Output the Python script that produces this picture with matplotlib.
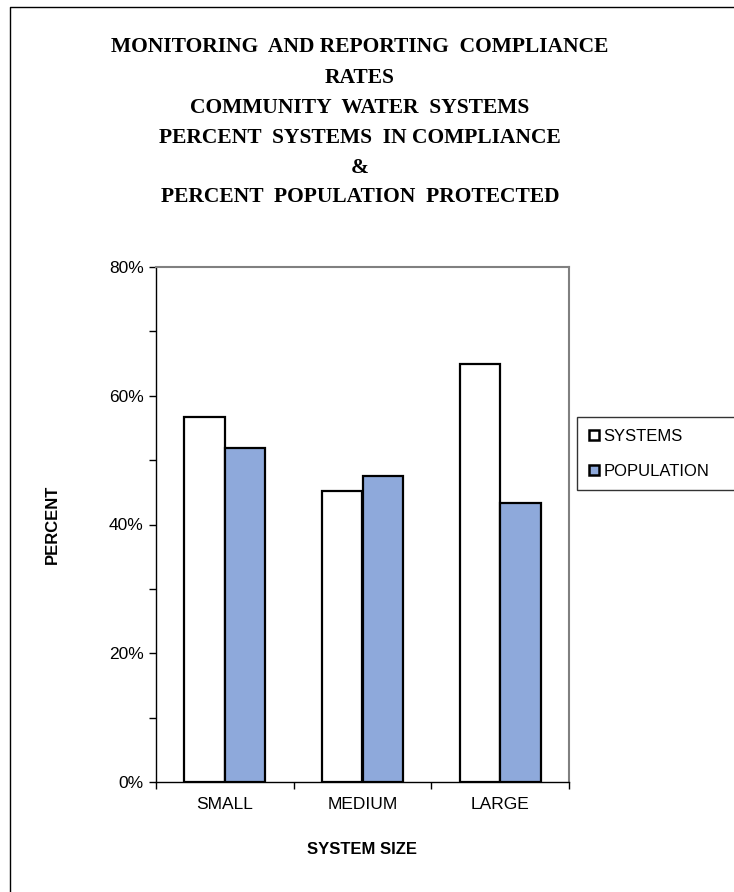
import matplotlib
matplotlib.use("Agg")
import matplotlib.pyplot as plt
from matplotlib.patches import Patch
from matplotlib.lines import Line2D
import numpy as np

categories = ["SMALL", "MEDIUM", "LARGE"]
systems = [56.7, 45.2, 64.9]
population = [51.9, 47.6, 43.4]
series_names = ["SYSTEMS", "POPULATION"]
yticks = [0, 20, 40, 60, 80]
title_lines = ["MONITORING  AND REPORTING  COMPLIANCE", "RATES",
               "COMMUNITY  WATER  SYSTEMS", "PERCENT  SYSTEMS  IN COMPLIANCE",
               "&", "PERCENT  POPULATION  PROTECTED"]

W, H = 734, 892
fig = plt.figure(figsize=(W / 100, H / 100), dpi=100)
fig.patch.set_facecolor("white")

def fx(px):
    return px / W

def fy(py):
    return 1 - py / H

ax = fig.add_axes([fx(156), fy(782), (569 - 156) / W, (782 - 267) / H])

blue = "#8EA9DB"
x = np.arange(len(categories))
w = 0.294
ax.bar(x - w / 2, systems, w, color="white", edgecolor="black", linewidth=1.6, zorder=3)
ax.bar(x + w / 2, population, w, color=blue, edgecolor="black", linewidth=1.6, zorder=3)

ax.set_xlim(-0.5, len(categories) - 0.5)
ax.set_ylim(0, 80)
ax.set_yticks(yticks)
ax.set_yticklabels([f"{v}%" for v in yticks])
ax.set_yticks(np.arange(0, 81, 10), minor=True)
ax.set_xticks(x)
ax.set_xticklabels(categories)
ax.set_xticks(np.arange(-0.5, len(categories), 1.0), minor=True)

ax.tick_params(axis="y", which="both", direction="out", length=5, width=1,
               labelsize=12.5, pad=4, colors="black")
ax.tick_params(axis="x", which="major", length=0, labelsize=12.5, pad=11)
ax.tick_params(axis="x", which="minor", direction="out", length=5, width=1)
for lab in ax.get_xticklabels() + ax.get_yticklabels():
    lab.set_fontfamily("Liberation Sans")

ax.spines["left"].set_color("black")
ax.spines["bottom"].set_color("black")
ax.spines["left"].set_linewidth(1.0)
ax.spines["bottom"].set_linewidth(1.0)
ax.spines["top"].set_color("#808080")
ax.spines["right"].set_color("#808080")
ax.spines["top"].set_linewidth(1.5)
ax.spines["right"].set_linewidth(1.5)

# Title
title_y = [47, 78, 108, 138, 168, 197]
for t, yy in zip(title_lines, title_y):
    fig.text(fx(360), fy(yy), t, ha="center", va="center",
             fontfamily="Liberation Serif", fontweight="bold", fontsize=15.5)

fig.text(fx(52), fy(524), "PERCENT", rotation=90, ha="center", va="center",
         fontfamily="Liberation Sans", fontweight="bold", fontsize=12)
fig.text(fx(362), fy(850), "SYSTEM SIZE", ha="center", va="center",
         fontfamily="Liberation Sans", fontweight="bold", fontsize=12)

handles = [Patch(facecolor="white", edgecolor="black", linewidth=1.8),
           Patch(facecolor=blue, edgecolor="black", linewidth=1.8)]
leg = fig.legend(handles, series_names, loc="upper left", mode="expand",
                 bbox_to_anchor=(fx(577), fy(488), fx(770) - fx(577), fy(417) - fy(488)),
                 frameon=True, fancybox=False,
                 handlelength=0.6, handleheight=0.6, handletextpad=0.3,
                 labelspacing=1.2, borderpad=0.7, borderaxespad=0,
                 prop={"family": "Liberation Sans", "size": 12})
leg.get_frame().set_edgecolor("black")
leg.get_frame().set_linewidth(1.0)

# Figure border (left and top)
fig.add_artist(Line2D([fx(10), fx(10), 1.0], [0.0, fy(7), fy(7)],
                      transform=fig.transFigure, color="black", linewidth=1.0))

fig.savefig("out.png", dpi=100, facecolor="white")
